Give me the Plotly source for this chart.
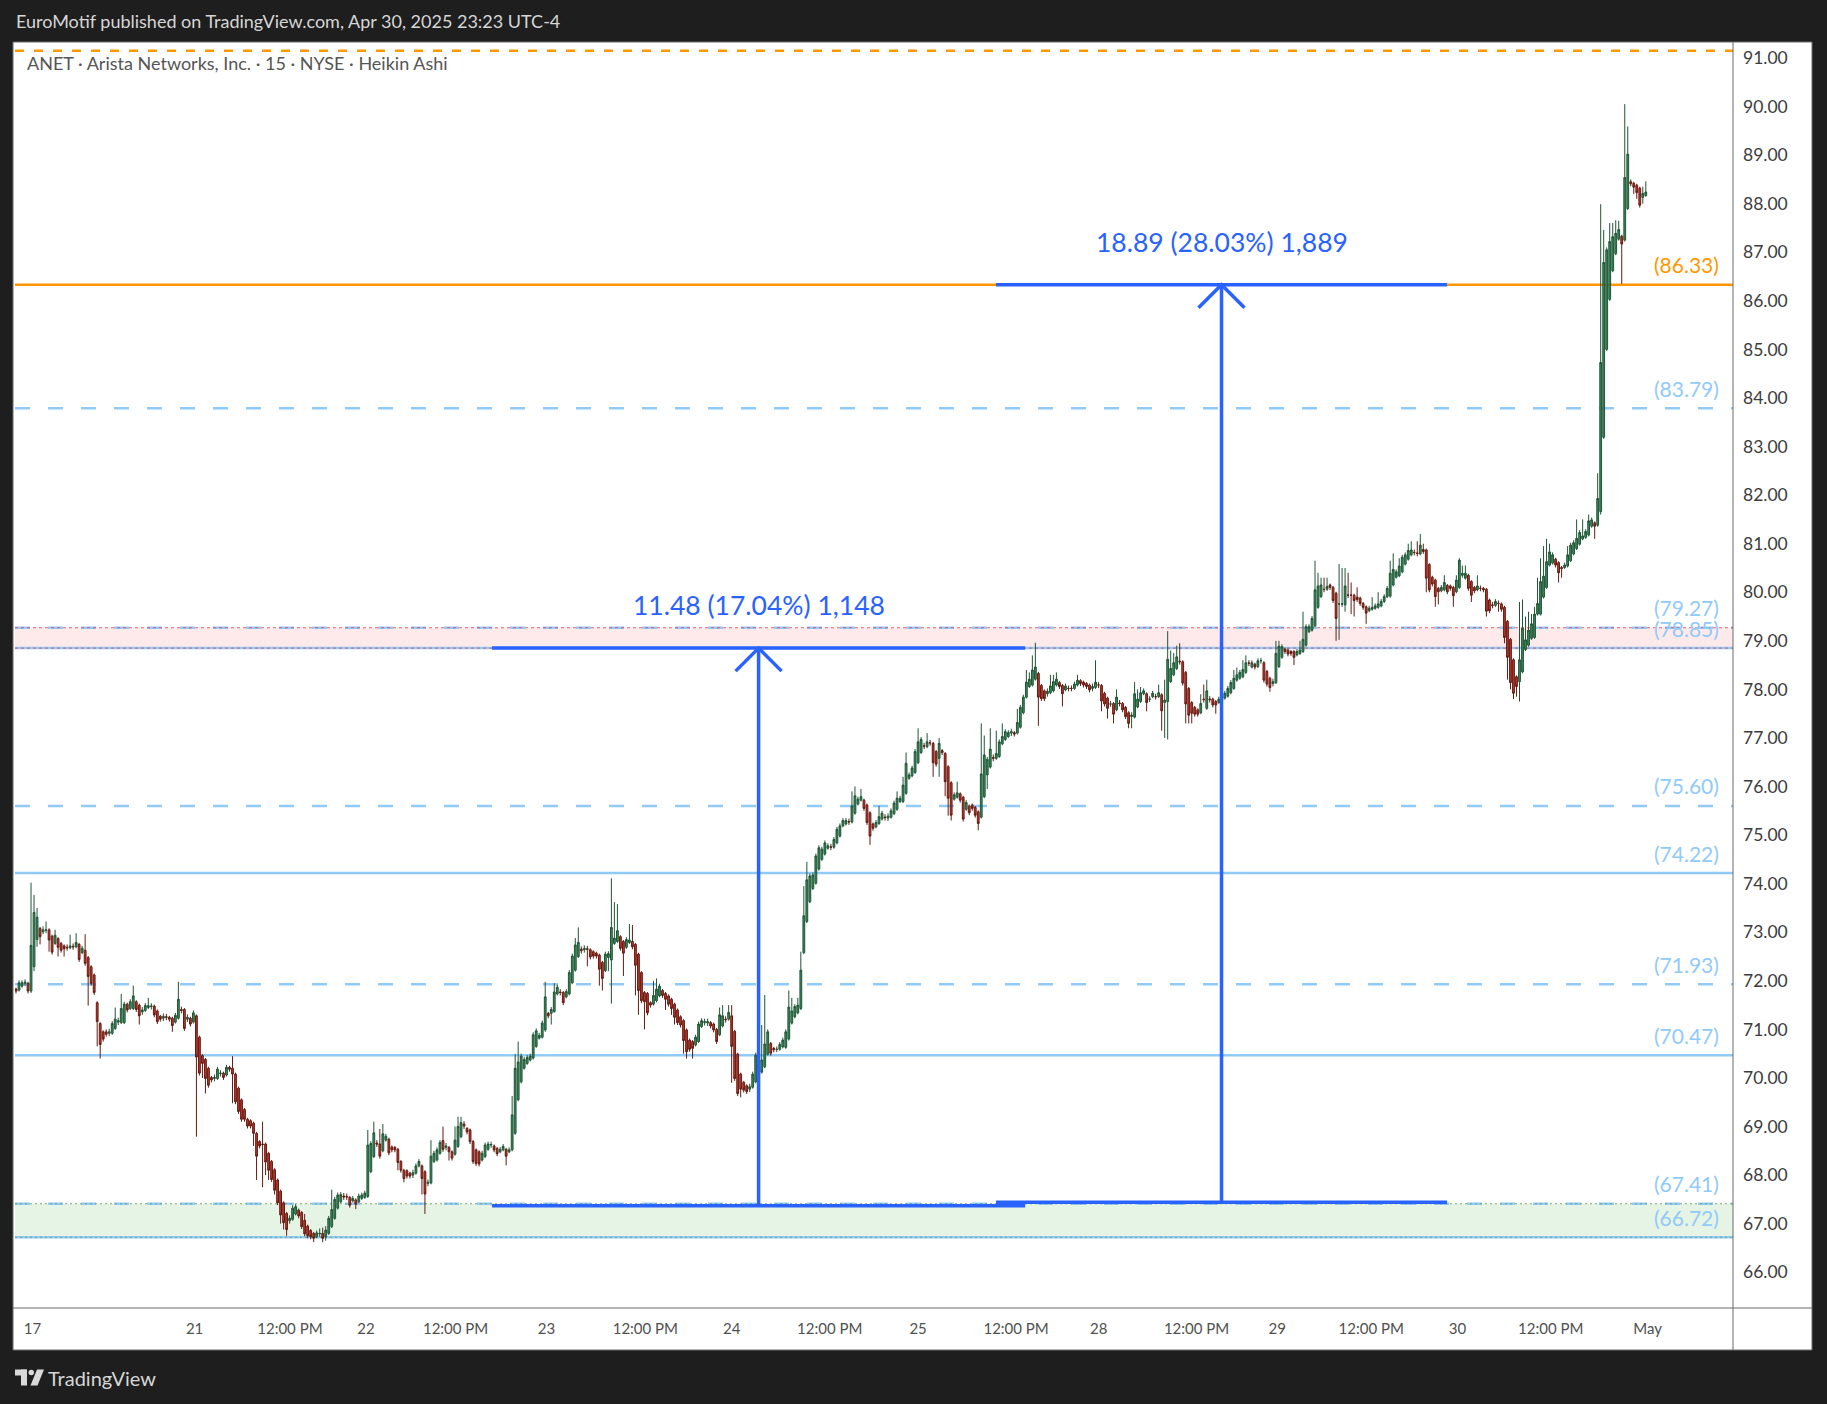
import plotly.graph_objects as go

# ---------------- DATA (Heikin Ashi 15-min candles) ----------------
OPEN = [
    # Apr 17
    71.83, 71.81, 71.89, 71.95, 71.95, 71.79, 72.29, 72.85, 73.08, 73.01,
    73.04, 73.05, 72.92, 72.77, 72.87, 72.77, 72.72, 72.69, 72.68, 72.71,
    72.70, 72.75, 72.58, 72.63, 72.48, 72.29, 72.12, 71.55, 71.12, 70.95,
    70.95, 70.92, 70.92, 71.02, 71.15, 71.14, 71.14, 71.52, 71.43, 71.43,
    71.57, 71.50, 71.36, 71.39, 71.45, 71.47, 71.48, 71.38, 71.27, 71.23,
    71.26, 71.25, 71.23, 71.15, 71.23, 71.41, 71.41, 71.21, 71.23, 71.15,
    # Apr 21
    71.28, 70.84, 70.46, 70.38, 70.20, 70.01, 69.99, 69.99, 70.09, 70.10,
    70.06, 70.22, 70.20, 70.08, 69.79, 69.55, 69.35, 69.15, 69.12, 69.07,
    68.86, 68.69, 68.64, 68.64, 68.45, 68.28, 68.11, 67.90, 67.67, 67.43,
    67.21, 67.06, 67.09, 67.20, 67.28, 67.23, 67.07, 66.95, 66.86, 66.80,
    66.73, 66.79, 66.80, 66.73, 66.80, 66.94, 67.11, 67.32, 67.45, 67.57,
    67.56, 67.54, 67.47, 67.49, 67.45, 67.52, 67.54,
    # Apr 22
    67.56, 68.07, 68.38, 68.66, 68.64, 68.50, 68.72, 68.74, 68.58, 68.57,
    68.53, 68.28, 68.10, 68.09, 68.04, 68.00, 68.04, 68.19, 68.19, 68.07,
    67.83, 67.84, 68.28, 68.31, 68.45, 68.71, 68.57, 68.57, 68.48, 68.43,
    68.59, 68.79, 69.05, 68.96, 68.93, 68.69, 68.52, 68.48, 68.31, 68.38,
    68.53, 68.62, 68.60, 68.55, 68.48, 68.52, 68.53, 68.48, 68.52, 68.86,
    69.55, 69.92, 70.20, 70.30, 70.37, 70.41, 70.65, 70.82, 70.84, 70.99,
    # Apr 23
    71.33, 71.33, 71.37, 71.73, 71.77, 71.76, 71.67, 71.73, 71.96, 72.22,
    72.50, 72.65, 72.64, 72.66, 72.64, 72.60, 72.57, 72.53, 72.38, 72.21,
    72.48, 72.43, 72.77, 72.81, 72.91, 72.81, 72.69, 72.79, 72.81, 72.75,
    72.55, 72.17, 71.76, 71.74, 71.55, 71.52, 71.59, 71.69, 71.80, 71.74,
    71.69, 71.62, 71.52, 71.40, 71.26, 71.18, 70.99, 70.78, 70.75, 70.68,
    70.75, 71.06, 71.14, 71.13, 71.14, 71.11, 71.00, 70.89, 71.07, 71.21,
    71.21, 71.28,
    # Apr 24
    70.96, 70.49, 70.08, 69.91, 69.84, 69.77, 69.81, 69.92, 70.20, 70.12,
    70.23, 70.49, 70.71, 70.61, 70.59, 70.59, 70.64, 70.63, 70.80, 71.13,
    71.26, 71.34, 71.43, 72.58, 73.22, 73.63, 73.90, 74.01, 74.30, 74.50,
    74.61, 74.73, 74.76, 74.75, 74.84, 74.98, 75.19, 75.23, 75.28, 75.27,
    75.45, 75.64, 75.72, 75.72, 75.62, 75.46, 75.23, 75.17, 75.24, 75.33,
    75.37, 75.35, 75.37, 75.44, 75.53, 75.69, 75.69, 75.86, 76.17, 76.22,
    76.29, 76.49,
    # Apr 25
    76.70, 76.84, 76.82, 76.90, 76.89, 76.72, 76.58, 76.74, 76.68, 76.41,
    76.08, 75.74, 75.78, 75.85, 75.78, 75.53, 75.60, 75.62, 75.57, 75.48,
    75.37, 75.79, 76.24, 76.40, 76.60, 76.58, 76.62, 76.88, 76.97, 77.03,
    77.10, 77.11, 77.10, 77.22, 77.52, 77.84, 78.06, 78.09, 78.21, 78.33,
    78.08, 77.97, 77.91, 77.93, 77.97, 78.09, 78.14, 78.08, 77.99, 78.02,
    78.02, 78.02, 78.09, 78.18, 78.15, 78.12, 78.09, 78.02, 78.04, 78.09,
    # Apr 28
    78.08, 77.92, 77.82, 77.70, 77.71, 77.58, 77.72, 77.71, 77.63, 77.52,
    77.44, 77.43, 77.64, 77.75, 77.91, 77.91, 77.80, 77.85, 77.85, 77.85,
    77.89, 77.73, 77.75, 78.16, 78.30, 78.43, 78.58, 78.57, 78.35, 78.02,
    77.73, 77.63, 77.58, 77.52, 77.80, 77.61, 77.80, 77.80, 77.75, 77.73,
    77.77, 77.82, 77.86, 77.93, 78.02, 78.19, 78.23, 78.26, 78.35, 78.54,
    78.46, 78.52, 78.47, 78.59, 78.55, 78.37, 78.23, 78.12, 78.14,
    # Apr 29
    78.47, 78.66, 78.83, 78.81, 78.78, 78.78, 78.71, 78.74, 78.78, 78.91,
    79.19, 79.22, 79.31, 79.69, 79.91, 80.06, 80.06, 80.15, 80.10, 79.98,
    79.76, 79.76, 79.74, 79.94, 79.94, 79.94, 79.90, 79.88, 79.77, 79.70,
    79.62, 79.65, 79.67, 79.69, 79.72, 79.81, 79.91, 79.92, 80.15, 80.31,
    80.34, 80.42, 80.58, 80.68, 80.77, 80.82, 80.81, 80.79, 80.88, 80.87,
    80.57, 80.31, 80.25, 80.08, 80.03, 80.05, 80.14, 80.13, 80.10, 80.01,
    # Apr 30
    80.10, 80.35, 80.29, 80.35, 80.22, 80.10, 80.05, 80.08, 80.08, 80.06,
    79.84, 79.74, 79.73, 79.77, 79.76, 79.69, 79.40, 79.03, 78.61, 78.26,
    78.16, 78.36, 78.82, 78.91, 79.05, 79.07, 79.55, 79.55, 79.90, 80.10,
    80.56, 80.60, 80.68, 80.61, 80.51, 80.51, 80.54, 80.65, 80.79, 80.90,
    80.99, 81.10, 81.13, 81.18, 81.36, 81.43, 81.38, 81.66, 83.19, 85.00,
    86.03, 86.62, 86.97, 87.27, 87.33, 87.25, 87.90, 88.45, 88.42, 88.38,
    88.32, 88.13, 88.17,
]

HIGH = [
    # Apr 17
    71.86, 72.01, 72.01, 72.03, 71.98, 74.02, 73.77, 73.50, 73.11, 73.12,
    73.22, 73.08, 72.95, 73.05, 72.90, 72.80, 72.75, 72.75, 72.95, 72.77,
    72.98, 72.78, 72.72, 72.96, 72.51, 72.32, 72.15, 71.58, 71.15, 70.98,
    71.00, 71.01, 71.17, 71.45, 71.24, 71.73, 71.57, 71.55, 71.62, 71.90,
    71.60, 71.53, 71.46, 71.54, 71.65, 71.54, 71.51, 71.41, 71.30, 71.33,
    71.32, 71.28, 71.26, 71.34, 71.98, 71.47, 71.44, 71.31, 71.26, 71.39,
    # Apr 21
    71.31, 70.87, 70.49, 70.41, 70.23, 70.04, 70.07, 70.23, 70.16, 70.13,
    70.27, 70.25, 70.45, 70.11, 69.82, 69.58, 69.38, 69.18, 69.15, 69.10,
    68.89, 68.72, 69.10, 68.67, 68.48, 68.31, 68.14, 67.93, 67.70, 67.46,
    67.24, 67.17, 67.38, 67.40, 67.31, 67.26, 67.20, 66.98, 66.89, 66.83,
    66.86, 66.90, 66.92, 66.95, 67.16, 67.70, 67.55, 67.64, 67.65, 67.63,
    67.62, 67.57, 67.57, 67.52, 67.62, 67.64, 67.68,
    # Apr 22
    68.93, 68.70, 69.10, 68.72, 68.95, 69.05, 68.85, 68.77, 68.61, 68.60,
    68.56, 68.31, 68.13, 68.12, 68.07, 68.11, 68.24, 68.33, 68.22, 68.10,
    67.91, 68.72, 68.50, 68.57, 68.72, 69.00, 68.66, 68.60, 68.51, 69.00,
    69.20, 69.20, 69.11, 68.99, 68.96, 68.72, 68.55, 68.51, 68.50, 68.67,
    68.69, 68.69, 68.63, 68.58, 68.58, 68.64, 68.56, 68.57, 69.63, 70.49,
    70.75, 70.50, 70.43, 70.47, 70.50, 70.94, 71.02, 70.93, 71.18, 71.98,
    # Apr 23
    71.36, 71.46, 71.95, 71.92, 71.83, 71.79, 71.83, 72.22, 72.56, 72.88,
    73.10, 72.71, 72.73, 72.72, 72.67, 72.63, 72.60, 72.56, 72.41, 72.60,
    72.61, 74.11, 73.62, 73.58, 72.94, 72.84, 72.90, 73.17, 73.15, 72.78,
    72.58, 72.20, 71.79, 71.77, 71.58, 72.00, 72.05, 71.94, 71.83, 71.77,
    71.72, 71.65, 71.55, 71.43, 71.29, 71.21, 71.02, 70.81, 70.78, 70.89,
    71.16, 71.23, 71.22, 71.22, 71.17, 71.14, 71.03, 71.45, 71.50, 71.27,
    71.50, 71.50,
    # Apr 24
    70.99, 70.52, 70.11, 69.94, 69.87, 69.88, 70.13, 70.52, 70.23, 71.09,
    71.71, 71.00, 70.74, 70.64, 70.65, 70.74, 70.83, 71.00, 71.80, 71.65,
    71.52, 71.65, 72.60, 73.95, 74.45, 74.21, 74.23, 74.62, 74.79, 74.76,
    74.89, 74.83, 74.82, 74.96, 75.17, 75.24, 75.35, 75.35, 75.34, 75.90,
    76.00, 75.79, 75.95, 75.75, 75.65, 75.49, 75.26, 75.31, 75.60, 75.50,
    75.43, 75.45, 75.55, 75.71, 75.90, 75.81, 76.20, 76.70, 76.29, 76.43,
    76.77, 77.20,
    # Apr 25
    77.02, 76.90, 77.10, 76.96, 76.92, 76.75, 77.00, 76.77, 76.71, 76.44,
    76.11, 75.88, 76.10, 75.88, 75.81, 75.72, 75.63, 75.65, 75.60, 75.51,
    77.30, 77.05, 76.61, 77.20, 76.66, 77.15, 76.97, 77.30, 77.18, 77.16,
    77.19, 77.14, 77.60, 77.68, 77.89, 78.40, 78.35, 78.70, 78.96, 78.36,
    78.11, 78.00, 78.02, 78.30, 78.30, 78.35, 78.17, 78.11, 78.12, 78.08,
    78.08, 78.16, 78.30, 78.21, 78.18, 78.15, 78.12, 78.12, 78.60, 78.15,
    # Apr 28
    78.11, 77.95, 77.85, 77.76, 77.74, 78.00, 77.78, 77.74, 77.66, 77.55,
    77.53, 78.15, 78.00, 78.05, 78.02, 77.94, 77.86, 77.97, 77.91, 78.10,
    77.92, 78.20, 79.20, 78.80, 78.75, 78.90, 78.95, 78.60, 78.38, 78.05,
    77.76, 77.66, 77.61, 77.90, 78.10, 78.20, 77.86, 77.83, 77.78, 77.85,
    77.90, 77.97, 78.07, 78.19, 78.40, 78.45, 78.40, 78.60, 78.70, 78.60,
    78.60, 78.55, 78.64, 78.65, 78.58, 78.40, 78.26, 78.22, 79.00,
    # Apr 29
    79.00, 78.93, 78.86, 78.84, 78.81, 78.81, 78.83, 79.00, 79.60, 79.34,
    79.34, 79.51, 80.65, 80.40, 80.30, 80.30, 80.30, 80.18, 80.13, 80.01,
    80.58, 80.50, 80.50, 80.40, 80.20, 79.97, 80.10, 79.91, 79.80, 79.73,
    79.72, 79.90, 79.77, 80.00, 79.86, 79.96, 80.13, 80.65, 80.80, 80.47,
    80.70, 80.77, 80.82, 81.00, 81.05, 80.88, 81.05, 81.20, 81.00, 80.90,
    80.60, 80.34, 80.28, 80.11, 80.15, 80.35, 80.17, 80.16, 80.13, 80.35,
    # Apr 30
    80.70, 80.55, 80.55, 80.38, 80.25, 80.13, 80.35, 80.14, 80.11, 80.09,
    79.87, 79.80, 79.86, 79.83, 79.79, 79.72, 79.43, 79.06, 78.64, 78.29,
    79.80, 79.85, 79.50, 79.60, 79.55, 79.70, 80.30, 80.70, 80.95, 81.10,
    81.00, 80.82, 80.71, 80.64, 80.54, 80.61, 80.95, 81.02, 81.07, 81.50,
    81.28, 81.50, 81.30, 81.60, 81.54, 81.46, 82.45, 87.99, 87.46, 87.10,
    87.60, 87.60, 87.66, 87.65, 87.36, 90.05, 89.59, 88.50, 88.45, 88.41,
    88.35, 88.35, 88.46,
]

LOW = [
    # Apr 17
    71.74, 71.78, 71.86, 71.89, 71.74, 71.75, 72.20, 72.70, 72.75, 72.96,
    72.98, 72.60, 72.54, 72.74, 72.50, 72.58, 72.50, 72.62, 72.65, 72.64,
    72.67, 72.39, 72.55, 72.31, 71.49, 71.90, 71.71, 70.65, 70.40, 70.75,
    70.85, 70.86, 70.89, 70.99, 71.09, 71.11, 71.11, 71.35, 71.40, 71.40,
    71.36, 71.10, 71.30, 71.36, 71.42, 71.41, 71.25, 71.11, 71.16, 71.17,
    71.19, 71.16, 70.95, 71.12, 71.20, 71.33, 70.97, 71.15, 71.06, 71.12,
    # Apr 21
    68.79, 70.05, 70.00, 69.68, 69.80, 69.91, 69.93, 69.96, 70.03, 69.96,
    70.03, 70.13, 69.48, 69.46, 69.26, 69.10, 69.10, 68.96, 68.96, 68.60,
    67.90, 68.55, 67.75, 68.00, 67.90, 67.86, 67.60, 67.38, 67.00, 66.88,
    66.75, 67.00, 67.06, 67.17, 67.11, 66.89, 66.74, 66.70, 66.68, 66.62,
    66.70, 66.73, 66.62, 66.65, 66.77, 66.91, 67.08, 67.29, 67.42, 67.49,
    67.49, 67.33, 67.44, 67.30, 67.42, 67.49, 67.51,
    # Apr 22
    67.53, 68.04, 68.35, 68.58, 68.34, 68.47, 68.69, 68.41, 68.47, 68.47,
    68.10, 68.05, 67.85, 67.93, 67.93, 67.94, 68.01, 68.16, 67.60, 67.20,
    67.77, 67.81, 68.25, 68.28, 68.42, 68.48, 68.51, 68.30, 68.30, 68.40,
    68.56, 68.76, 68.95, 68.84, 68.64, 68.23, 68.19, 68.18, 68.28, 68.35,
    68.50, 68.56, 68.47, 68.39, 68.45, 68.49, 68.20, 68.45, 68.49, 68.83,
    69.52, 69.89, 70.17, 70.27, 70.34, 70.38, 70.62, 70.79, 70.81, 70.95,
    # Apr 23
    71.23, 71.10, 71.34, 71.70, 71.70, 71.50, 71.64, 71.70, 71.93, 72.19,
    72.47, 72.56, 72.58, 72.30, 72.44, 72.46, 72.46, 71.90, 71.80, 72.18,
    72.20, 71.53, 72.74, 72.78, 72.62, 72.10, 72.66, 72.76, 72.65, 71.70,
    71.30, 71.54, 71.00, 71.29, 71.45, 71.49, 71.56, 71.66, 71.65, 71.40,
    71.47, 71.30, 71.10, 71.09, 71.04, 70.50, 70.40, 70.54, 70.40, 70.65,
    70.72, 71.03, 71.08, 71.07, 71.02, 70.94, 70.70, 70.86, 71.04, 71.14,
    71.18, 69.90,
    # Apr 24
    69.94, 69.63, 69.60, 69.70, 69.67, 69.71, 69.78, 69.89, 70.01, 70.09,
    70.20, 70.46, 70.46, 70.53, 70.53, 70.56, 70.61, 70.60, 70.77, 71.10,
    71.23, 71.31, 71.40, 72.55, 73.19, 73.60, 73.87, 73.98, 74.27, 74.47,
    74.58, 74.70, 74.69, 74.72, 74.81, 74.95, 75.16, 75.20, 75.21, 75.24,
    75.42, 75.61, 75.69, 75.50, 75.21, 74.80, 75.09, 75.14, 75.21, 75.30,
    75.30, 75.29, 75.34, 75.41, 75.50, 75.66, 75.66, 75.83, 76.14, 76.19,
    76.26, 76.46,
    # Apr 25
    76.67, 76.77, 76.79, 76.84, 76.20, 76.41, 76.20, 76.65, 75.80, 75.40,
    75.30, 75.71, 75.75, 75.67, 75.28, 75.50, 75.41, 75.50, 75.36, 75.10,
    75.34, 75.76, 75.95, 76.37, 76.52, 76.55, 76.59, 76.85, 76.94, 77.00,
    77.04, 77.03, 77.07, 77.19, 77.49, 77.81, 78.03, 78.06, 78.18, 77.25,
    77.76, 77.76, 77.85, 77.90, 77.94, 78.06, 78.01, 77.65, 77.96, 77.96,
    77.96, 77.99, 78.06, 78.07, 78.04, 78.01, 77.94, 77.96, 78.01, 78.03,
    # Apr 28
    77.55, 77.65, 77.40, 77.64, 77.30, 77.55, 77.65, 77.53, 77.39, 77.20,
    77.20, 77.40, 77.61, 77.72, 77.88, 77.55, 77.74, 77.82, 77.79, 77.82,
    77.15, 77.00, 76.97, 78.13, 78.27, 78.40, 78.51, 78.08, 77.30, 77.30,
    77.30, 77.44, 77.44, 77.49, 77.73, 77.58, 77.73, 77.63, 77.50, 77.70,
    77.74, 77.79, 77.83, 77.90, 77.99, 78.16, 78.20, 78.23, 78.32, 78.48,
    78.43, 78.41, 78.44, 78.53, 78.14, 78.06, 77.95, 78.06, 78.11,
    # Apr 29
    78.44, 78.63, 78.73, 78.68, 78.69, 78.50, 78.68, 78.71, 78.75, 78.88,
    79.16, 79.19, 79.28, 79.66, 79.88, 80.00, 80.03, 80.05, 79.78, 79.00,
    79.02, 79.70, 79.60, 79.88, 79.55, 79.50, 79.80, 79.72, 79.64, 79.35,
    79.59, 79.62, 79.64, 79.66, 79.69, 79.78, 79.88, 79.89, 80.12, 80.28,
    80.31, 80.39, 80.55, 80.65, 80.74, 80.76, 80.74, 80.76, 80.79, 80.00,
    80.00, 80.12, 79.70, 79.75, 80.00, 80.02, 79.96, 80.03, 79.70, 79.98,
    # Apr 30
    80.07, 80.30, 80.26, 80.03, 79.80, 79.98, 80.02, 80.02, 80.00, 79.50,
    79.57, 79.67, 79.70, 79.60, 79.60, 78.95, 78.20, 78.00, 77.80, 77.85,
    77.75, 78.33, 78.79, 78.88, 79.02, 79.04, 79.52, 79.52, 79.87, 80.07,
    80.53, 80.57, 80.51, 80.20, 80.30, 80.48, 80.51, 80.62, 80.76, 80.87,
    80.96, 81.07, 81.10, 81.15, 81.33, 81.10, 81.35, 81.60, 83.16, 84.97,
    86.00, 86.59, 86.94, 87.24, 86.35, 87.22, 87.87, 88.36, 88.20, 88.10,
    87.92, 88.00, 88.14,
]

CLOSE = [
    # Apr 17
    71.79, 71.96, 71.96, 71.97, 71.79, 72.73, 73.41, 73.31, 72.91, 73.05,
    73.05, 72.84, 72.59, 72.94, 72.69, 72.63, 72.66, 72.68, 72.72, 72.70,
    72.79, 72.44, 72.67, 72.36, 72.09, 71.95, 71.76, 71.16, 70.69, 70.80,
    70.90, 70.95, 71.12, 71.21, 71.18, 71.43, 71.52, 71.40, 71.57, 71.69,
    71.41, 71.28, 71.40, 71.49, 71.49, 71.48, 71.30, 71.16, 71.21, 71.27,
    71.25, 71.21, 71.08, 71.29, 71.62, 71.39, 71.02, 71.25, 71.11, 71.34,
    # Apr 21
    70.43, 70.10, 70.30, 69.99, 69.85, 69.96, 70.01, 70.18, 70.10, 70.01,
    70.22, 70.18, 70.08, 69.51, 69.31, 69.15, 69.15, 69.01, 69.01, 68.86,
    68.39, 68.60, 68.63, 68.27, 68.10, 67.91, 67.69, 67.43, 67.18, 67.02,
    66.88, 67.11, 67.32, 67.35, 67.16, 66.94, 66.79, 66.75, 66.73, 66.70,
    66.81, 66.80, 66.70, 66.87, 67.11, 67.29, 67.50, 67.59, 67.60, 67.55,
    67.55, 67.38, 67.52, 67.40, 67.57, 67.59, 67.63,
    # Apr 22
    68.62, 68.65, 68.87, 68.64, 68.39, 68.85, 68.80, 68.46, 68.52, 68.52,
    68.26, 68.10, 67.93, 67.98, 67.98, 68.05, 68.19, 68.28, 67.93, 67.61,
    67.85, 68.39, 68.45, 68.52, 68.67, 68.53, 68.60, 68.48, 68.35, 68.72,
    69.00, 69.08, 69.01, 68.89, 68.69, 68.28, 68.24, 68.23, 68.45, 68.62,
    68.64, 68.63, 68.52, 68.44, 68.53, 68.59, 68.39, 68.52, 69.24, 70.20,
    70.33, 70.45, 70.38, 70.42, 70.45, 70.89, 70.97, 70.88, 71.13, 71.67,
    # Apr 23
    71.28, 71.41, 71.77, 71.87, 71.76, 71.55, 71.78, 72.17, 72.51, 72.74,
    72.79, 72.62, 72.67, 72.65, 72.49, 72.51, 72.51, 72.24, 72.05, 72.55,
    72.56, 73.10, 72.88, 73.03, 72.67, 72.57, 72.85, 72.84, 72.70, 72.32,
    71.80, 71.59, 71.57, 71.34, 71.50, 71.70, 71.83, 71.89, 71.70, 71.62,
    71.52, 71.43, 71.25, 71.14, 71.09, 70.77, 70.54, 70.59, 70.61, 70.84,
    71.11, 71.18, 71.16, 71.16, 71.07, 70.99, 70.75, 71.30, 71.28, 71.20,
    71.35, 70.65,
    # Apr 24
    69.99, 69.68, 69.77, 69.75, 69.72, 69.82, 70.08, 70.47, 70.06, 70.37,
    70.70, 70.95, 70.51, 70.58, 70.59, 70.69, 70.78, 70.95, 71.46, 71.38,
    71.47, 71.50, 72.22, 73.34, 74.08, 74.16, 74.18, 74.57, 74.74, 74.71,
    74.84, 74.78, 74.75, 74.91, 75.12, 75.19, 75.30, 75.30, 75.27, 75.60,
    75.81, 75.74, 75.79, 75.55, 75.26, 74.98, 75.14, 75.26, 75.38, 75.45,
    75.36, 75.39, 75.50, 75.66, 75.76, 75.76, 76.03, 76.48, 76.24, 76.38,
    76.72, 76.92,
    # Apr 25
    76.97, 76.83, 76.92, 76.90, 76.49, 76.46, 76.89, 76.70, 76.10, 75.76,
    75.41, 75.83, 75.87, 75.72, 75.33, 75.67, 75.46, 75.55, 75.41, 75.24,
    76.26, 76.65, 76.56, 76.77, 76.58, 76.68, 76.92, 77.03, 77.13, 77.11,
    77.13, 77.08, 77.32, 77.63, 77.84, 78.15, 78.21, 78.40, 78.46, 77.84,
    77.81, 77.81, 77.96, 78.07, 78.16, 78.21, 78.06, 77.91, 78.07, 78.02,
    78.02, 78.11, 78.19, 78.12, 78.09, 78.06, 77.99, 78.06, 78.15, 78.09,
    # Apr 28
    77.76, 77.70, 77.61, 77.70, 77.49, 77.84, 77.71, 77.58, 77.44, 77.30,
    77.47, 77.91, 77.80, 77.93, 77.97, 77.73, 77.80, 77.92, 77.85, 77.93,
    77.56, 77.78, 78.62, 78.43, 78.55, 78.67, 78.57, 78.13, 77.70, 77.47,
    77.51, 77.49, 77.49, 77.71, 77.79, 77.97, 77.79, 77.68, 77.68, 77.80,
    77.85, 77.92, 78.02, 78.14, 78.23, 78.30, 78.35, 78.41, 78.55, 78.54,
    78.55, 78.46, 78.59, 78.59, 78.19, 78.11, 78.04, 78.16, 78.74,
    # Apr 29
    78.89, 78.88, 78.78, 78.73, 78.74, 78.66, 78.78, 78.81, 79.03, 79.29,
    79.29, 79.46, 80.05, 80.13, 80.15, 80.06, 80.12, 80.10, 79.83, 79.46,
    79.76, 79.76, 80.13, 79.94, 79.94, 79.83, 79.85, 79.77, 79.69, 79.57,
    79.67, 79.69, 79.72, 79.76, 79.81, 79.91, 80.08, 80.39, 80.47, 80.42,
    80.54, 80.72, 80.77, 80.86, 80.87, 80.82, 80.80, 80.97, 80.84, 80.29,
    80.05, 80.17, 79.91, 80.01, 80.10, 80.20, 80.01, 80.08, 79.93, 80.25,
    # Apr 30
    80.66, 80.39, 80.39, 80.08, 79.94, 80.03, 80.13, 80.08, 80.05, 79.61,
    79.62, 79.73, 79.81, 79.77, 79.65, 79.07, 78.66, 78.14, 77.92, 78.06,
    78.61, 79.26, 79.02, 79.22, 79.35, 79.55, 79.77, 80.22, 80.33, 80.63,
    80.83, 80.77, 80.56, 80.40, 80.49, 80.56, 80.77, 80.97, 81.02, 81.11,
    81.23, 81.16, 81.25, 81.47, 81.49, 81.36, 81.93, 84.73, 86.79, 87.05,
    87.22, 87.32, 87.39, 87.47, 87.17, 88.54, 89.02, 88.41, 88.34, 88.23,
    87.97, 88.21, 88.24,
]

X_TICK_POS = [5.5, 59.4, 91.1, 116.4, 146.2, 176.4, 209.3, 238.0, 270.6,
              300.0, 332.6, 360.1, 392.6, 419.4, 450.7, 479.4, 510.4, 542.6]
X_TICK_TEXT = ["17", "21", "12:00 PM", "22", "12:00 PM", "23", "12:00 PM", "24",
               "12:00 PM", "25", "12:00 PM", "28", "12:00 PM", "29", "12:00 PM",
               "30", "12:00 PM", "May"]
Y_TICKS = list(range(66, 92))

BLUE_SOLID_LEVELS = [78.85, 74.22, 70.47, 66.72]
BLUE_DASHED_LEVELS = [83.79, 79.27, 75.60, 71.93, 67.41]
ORANGE_SOLID_LEVEL = 86.33
ORANGE_DASHED_LEVEL = 91.15
LABELED_LEVELS = [86.33, 83.79, 79.27, 78.85, 75.60, 74.22, 71.93, 70.47, 67.41, 66.72]
RESISTANCE_ZONE = (78.85, 79.27)
SUPPORT_ZONE = (66.72, 67.41)

MEASURE_X0 = [158.3, 325.9]
MEASURE_X1 = [335.6, 475.9]
MEASURE_LOW = [67.37, 67.44]
MEASURE_HIGH = [78.85, 86.33]
MEASURE_TEXT = ["11.48 (17.04%) 1,148", "18.89 (28.03%) 1,889"]

HEADER = "EuroMotif published on TradingView.com, Apr 30, 2025 23:23 UTC-4"
LEGEND = "ANET · Arista Networks, Inc. · 15 · NYSE · Heikin Ashi"

# ---------------- LAYOUT GEOMETRY ----------------
W, H = 1827, 1404
PL, PR, PT, PB = 15, 1733, 42, 1308
X_RANGE = [-0.33, 571.0]
Y_RANGE = [65.264, 91.329]
FONT = "Lato, 'Noto Sans', sans-serif"

BLUE = "#90caf9"
ORANGE = "#ff9800"
TOOL = "#2962ff"


def fx(px):
    return (px - PL) / (PR - PL)


def fy(py):
    return (PB - py) / (PB - PT)


n = min(len(OPEN), len(HIGH), len(LOW), len(CLOSE))
xs = list(range(n))

fig = go.Figure(go.Candlestick(
    x=xs, open=OPEN[:n], high=HIGH[:n], low=LOW[:n], close=CLOSE[:n],
    increasing=dict(line=dict(color="#205536", width=1), fillcolor="#3a8a5b"),
    decreasing=dict(line=dict(color="#641c13", width=1), fillcolor="#c4352a"),
    whiskerwidth=0, showlegend=False, hoverinfo="skip",
))

shapes = []
# white chart panel (plot + axes)
shapes.append(dict(type="rect", xref="paper", yref="paper", x0=fx(13), x1=fx(1812),
                   y0=fy(1350), y1=fy(PT), fillcolor="white", line=dict(width=0), layer="below"))
# zones
shapes.append(dict(type="rect", xref="paper", yref="y", x0=0, x1=1,
                   y0=RESISTANCE_ZONE[0], y1=RESISTANCE_ZONE[1],
                   fillcolor="rgba(242,54,69,0.11)", line=dict(width=0), layer="below"))
shapes.append(dict(type="rect", xref="paper", yref="y", x0=0, x1=1,
                   y0=SUPPORT_ZONE[0], y1=SUPPORT_ZONE[1],
                   fillcolor="rgba(76,175,80,0.14)", line=dict(width=0), layer="below"))
for lv in BLUE_SOLID_LEVELS:
    shapes.append(dict(type="line", xref="paper", yref="y", x0=0, x1=1, y0=lv, y1=lv,
                       line=dict(color=BLUE, width=2.5), layer="below"))
for lv in BLUE_DASHED_LEVELS:
    shapes.append(dict(type="line", xref="paper", yref="y", x0=0, x1=1, y0=lv, y1=lv,
                       line=dict(color=BLUE, width=2.5, dash="15px,18px"), layer="below"))
for lv in RESISTANCE_ZONE:
    shapes.append(dict(type="line", xref="paper", yref="y", x0=0, x1=1, y0=lv, y1=lv,
                       line=dict(color="rgba(230,70,80,0.85)", width=1, dash="3px,3px"), layer="below"))
for lv in SUPPORT_ZONE:
    shapes.append(dict(type="line", xref="paper", yref="y", x0=0, x1=1, y0=lv, y1=lv,
                       line=dict(color="rgba(110,160,90,0.9)", width=1, dash="2px,3px"), layer="below"))
shapes.append(dict(type="line", xref="paper", yref="y", x0=0, x1=1,
                   y0=ORANGE_SOLID_LEVEL, y1=ORANGE_SOLID_LEVEL,
                   line=dict(color=ORANGE, width=2.5), layer="below"))
shapes.append(dict(type="line", xref="paper", yref="y", x0=0, x1=1,
                   y0=ORANGE_DASHED_LEVEL, y1=ORANGE_DASHED_LEVEL,
                   line=dict(color=ORANGE, width=2.5, dash="9px,10px"), layer="below"))

# measurement tools
dx_head = 23 * (X_RANGE[1] - X_RANGE[0]) / (PR - PL)
dy_head = 23 * (Y_RANGE[1] - Y_RANGE[0]) / (PB - PT)
annotations = []
for x0, x1, lo, hi, txt in zip(MEASURE_X0, MEASURE_X1, MEASURE_LOW, MEASURE_HIGH, MEASURE_TEXT):
    xm = (x0 + x1) / 2
    tl = dict(color=TOOL, width=3.5)
    shapes.append(dict(type="line", xref="x", yref="y", x0=x0, x1=x1, y0=hi, y1=hi, line=tl))
    shapes.append(dict(type="line", xref="x", yref="y", x0=x0, x1=x1, y0=lo, y1=lo, line=tl))
    shapes.append(dict(type="line", xref="x", yref="y", x0=xm, x1=xm, y0=lo, y1=hi, line=tl))
    shapes.append(dict(type="path", xref="x", yref="y",
                       path=f"M {xm - dx_head},{hi - dy_head} L {xm},{hi} L {xm + dx_head},{hi - dy_head}",
                       line=tl))
    annotations.append(dict(x=xm, y=hi, xref="x", yref="y", yshift=43, text=txt,
                            showarrow=False, font=dict(family=FONT, size=26.5, color=TOOL)))

# panel borders / separators
shapes.append(dict(type="rect", xref="paper", yref="paper", x0=fx(13), x1=fx(1812),
                   y0=fy(1350), y1=fy(PT), line=dict(color="#6a6a6a", width=1)))
shapes.append(dict(type="line", xref="paper", yref="paper", x0=fx(PR), x1=fx(PR),
                   y0=fy(1350), y1=fy(PT), line=dict(color="#6a6a6a", width=1)))
shapes.append(dict(type="line", xref="paper", yref="paper", x0=fx(13), x1=fx(1812),
                   y0=fy(PB), y1=fy(PB), line=dict(color="#6a6a6a", width=1)))

# TradingView logo (footer)
LOGO = "#d9d9d9"
shapes.append(dict(type="rect", xref="paper", yref="paper", x0=fx(15), x1=fx(27),
                   y0=fy(1375.5), y1=fy(1369.5), fillcolor=LOGO, line=dict(width=0)))
shapes.append(dict(type="rect", xref="paper", yref="paper", x0=fx(21), x1=fx(27),
                   y0=fy(1385.5), y1=fy(1369.5), fillcolor=LOGO, line=dict(width=0)))
shapes.append(dict(type="circle", xref="paper", yref="paper", x0=fx(28.5), x1=fx(34),
                   y0=fy(1375.2), y1=fy(1369.7), fillcolor=LOGO, line=dict(width=0)))
shapes.append(dict(type="path", xref="paper", yref="paper",
                   path=(f"M {fx(37)},{fy(1369.5)} L {fx(44)},{fy(1369.5)} "
                         f"L {fx(37.5)},{fy(1385.5)} L {fx(30.5)},{fy(1385.5)} Z"),
                   fillcolor=LOGO, line=dict(width=0)))

# level labels
for lv in LABELED_LEVELS:
    col = ORANGE if abs(lv - ORANGE_SOLID_LEVEL) < 1e-9 else BLUE
    annotations.append(dict(x=fx(1721), y=lv, xref="paper", yref="y", yshift=20,
                            xanchor="right", yanchor="middle", text=f"({lv:.2f})",
                            showarrow=False, font=dict(family=FONT, size=21, color=col)))

annotations.append(dict(x=fx(14), y=fy(21), xref="paper", yref="paper", xanchor="left",
                        yanchor="middle", text=HEADER, showarrow=False,
                        font=dict(family=FONT, size=18, color="#d6d6d6")))
annotations.append(dict(x=fx(25), y=fy(63), xref="paper", yref="paper", xanchor="left",
                        yanchor="middle", text=LEGEND, showarrow=False,
                        font=dict(family=FONT, size=18, color="#555555")))
annotations.append(dict(x=fx(46), y=fy(1378), xref="paper", yref="paper", xanchor="left",
                        yanchor="middle", text="TradingView", showarrow=False,
                        font=dict(family=FONT, size=20, color="#d6d6d6")))

fig.update_layout(
    width=W, height=H, autosize=False,
    margin=dict(l=PL, r=W - PR, t=PT, b=H - PB, pad=0),
    paper_bgcolor="#1e1e1e", plot_bgcolor="white",
    font=dict(family=FONT),
    showlegend=False, hovermode=False, boxgap=0.15,
    shapes=shapes, annotations=annotations,
    xaxis=dict(range=X_RANGE, showgrid=False, zeroline=False, showline=False,
               rangeslider=dict(visible=False), tickmode="array",
               tickvals=X_TICK_POS, ticktext=X_TICK_TEXT, ticks="",
               ticklabelstandoff=10, tickfont=dict(family=FONT, size=15, color="#505050"),
               fixedrange=True),
    yaxis=dict(range=Y_RANGE, side="right", showgrid=False, zeroline=False, showline=False,
               tickmode="array", tickvals=Y_TICKS, ticktext=[f"{v:.2f}" for v in Y_TICKS],
               ticks="", ticklabelstandoff=9,
               tickfont=dict(family=FONT, size=17.5, color="#3c3c3c"), fixedrange=True),
)

fig.write_html(
    "out.html",
    config={"displayModeBar": False},
    post_script="document.body.style.margin='0px';document.body.style.background='#1e1e1e';",
)
